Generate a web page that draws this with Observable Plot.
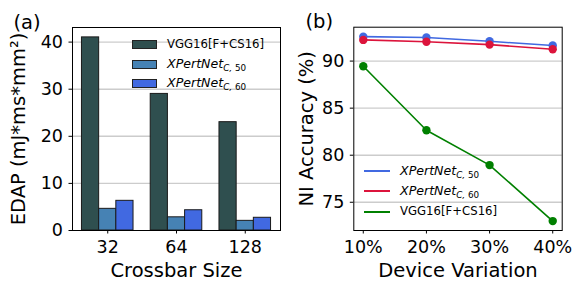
<!DOCTYPE html>
<html>
<head>
<meta charset="utf-8">
<script src="https://cdn.jsdelivr.net/npm/d3@7"></script>
<script src="https://cdn.jsdelivr.net/npm/@observablehq/plot@0.6"></script>
<style>
  html, body { margin: 0; padding: 0; background: white; }
  #wrap { position: relative; width: 581px; height: 290px; font-family: "DejaVu Sans", sans-serif; }
  .panel { position: absolute; top: 0; }
  .leg { position: absolute; font-family: "DejaVu Sans", sans-serif; font-size: 11.7px; color: black; line-height: 14px; white-space: nowrap; }
  .patch { position: absolute; width: 25px; height: 9px; border: 1px solid #222; box-sizing: border-box; }
  .lline { position: absolute; width: 26px; height: 1.7px; }
  .math { font-style: italic; font-size: 12.6px; }
  .math sub { font-size: 8.8px; vertical-align: -3px; }
  .math .up { font-style: normal; }
</style>
</head>
<body>
<div id="wrap"></div>
<script>
// ---- Panel (a) data ----
const crossbarSizes = ["32", "64", "128"];
const barSeries = ["VGG16[F+CS16]", "XPertNet_C,50", "XPertNet_C,60"];
const edapVGG = [41.0, 29.0, 23.0];
const edapXP50 = [4.6, 2.8, 2.05];
const edapXP60 = [6.3, 4.3, 2.7];
const edapTicks = [0, 10, 20, 30, 40];
const barColors = ["#2F4F4F", "#4682B4", "#4169E1"];

// ---- Panel (b) data ----
const variation = [10, 20, 30, 40];
const accXP50 = [92.6, 92.5, 92.1, 91.65];
const accXP60 = [92.25, 92.05, 91.75, 91.25];
const accVGG = [89.45, 82.65, 78.95, 73.0];
const accTicks = [75, 80, 85, 90];
const lineSeries = ["XPertNet_C,50", "XPertNet_C,60", "VGG16[F+CS16]"];
const lineColors = ["#4169E1", "#DC143C", "#008000"];

const wrap = document.getElementById("wrap");
const FONT = "DejaVu Sans";

// Build bar table
const barValues = [edapVGG, edapXP50, edapXP60];
const bars = [];
crossbarSizes.forEach((c, g) => {
  barValues.forEach((vals, s) => {
    bars.push({g, s, series: barSeries[s], value: vals[g]});
  });
});
const bw = 0.25;

const plotA = Plot.plot({
  width: 290, height: 290,
  marginLeft: 72, marginRight: 10, marginTop: 27, marginBottom: 60,
  style: {fontFamily: FONT, fontSize: "17.5px", color: "black", background: "transparent", overflow: "visible"},
  x: {domain: [-0.5125, 2.5125], ticks: [0, 1, 2], tickFormat: i => crossbarSizes[i], tickSize: 3.5, tickPadding: 6.5, label: null},
  y: {domain: [0, 43.1], ticks: edapTicks, tickSize: 3.5, tickPadding: 6, label: null},
  color: {domain: barSeries, range: barColors},
  marks: [
    Plot.ruleY(edapTicks.filter(t => t > 0), {stroke: "#cccccc", strokeWidth: 1.4}),
    Plot.rect(bars, {
      x1: d => d.g + (d.s - 1) * bw - bw / 2,
      x2: d => d.g + (d.s - 1) * bw + bw / 2,
      y1: 0, y2: "value",
      fill: "series", stroke: "#1a1a1a", strokeWidth: 1
    }),
    Plot.frame({stroke: "black", strokeWidth: 1}),
    Plot.text(["Crossbar Size"], {frameAnchor: "bottom", dy: 40, fontSize: 19.5, textAnchor: "middle", lineAnchor: "middle", fill: "black"}),
    Plot.text(["EDAP (mJ*ms*mm²)"], {frameAnchor: "left", rotate: -90, dx: -54, fontSize: 19.5, textAnchor: "middle", lineAnchor: "middle", fill: "black"}),
    Plot.text(["(a)"], {frameAnchor: "top-left", dx: -59, dy: -5, fontSize: 19.5, textAnchor: "start", lineAnchor: "middle", fill: "black"})
  ]
});
plotA.classList.add("panel");
plotA.style.left = "0px";
wrap.appendChild(plotA);

// Build line table
const lineValues = [accXP50, accXP60, accVGG];
const pts = [];
lineValues.forEach((vals, s) => {
  variation.forEach((v, i) => pts.push({series: lineSeries[s], v, acc: vals[i]}));
});

const plotB = Plot.plot({
  width: 291, height: 290,
  marginLeft: 63.3, marginRight: 19.3, marginTop: 26.7, marginBottom: 60,
  style: {fontFamily: FONT, fontSize: "17.5px", color: "black", background: "transparent", overflow: "visible"},
  x: {domain: [8.5, 41.5], ticks: variation, tickFormat: d => d + "%", tickSize: 3.5, tickPadding: 6.5, label: null},
  y: {domain: [72.0, 93.6], ticks: accTicks, tickSize: 3.5, tickPadding: 6, label: null},
  color: {domain: lineSeries, range: lineColors},
  marks: [
    Plot.ruleY(accTicks, {stroke: "#cccccc", strokeWidth: 1.4}),
    ...lineSeries.map(s => Plot.line(pts.filter(d => d.series === s), {x: "v", y: "acc", stroke: "series", strokeWidth: 1.6})),
    ...lineSeries.map(s => Plot.dot(pts.filter(d => d.series === s), {x: "v", y: "acc", fill: "series", r: 4.2})),
    Plot.frame({stroke: "black", strokeWidth: 1}),
    Plot.text(["Device Variation"], {frameAnchor: "bottom", dy: 40, fontSize: 19.5, textAnchor: "middle", lineAnchor: "middle", fill: "black"}),
    Plot.text(["NI Accuracy (%)"], {frameAnchor: "left", rotate: -90, dx: -46.6, fontSize: 19.5, textAnchor: "middle", lineAnchor: "middle", fill: "black"}),
    Plot.text(["(b)"], {frameAnchor: "top-left", dx: -48.3, dy: -5, fontSize: 19.5, textAnchor: "start", lineAnchor: "middle", fill: "black"})
  ]
});
plotB.classList.add("panel");
plotB.style.left = "290px";
wrap.appendChild(plotB);

// Legends (HTML overlays)
function labelHTML(name) {
  if (name.startsWith("XPertNet_")) {
    const sub = name.split("_")[1].split(",");
    return `<span class="math">XPertNet<sub>${sub[0]},<span class="up"> ${sub[1]}</span></sub></span>`;
  }
  return name;
}
const legA = [44.2, 64, 83.8];
barSeries.forEach((s, i) => {
  const p = document.createElement("div");
  p.className = "patch";
  p.style.left = "132px"; p.style.top = (legA[i] - 4.5) + "px";
  p.style.background = barColors[i];
  wrap.appendChild(p);
  const t = document.createElement("div");
  t.className = "leg";
  t.style.left = "167px"; t.style.top = (legA[i] - 7.5) + "px";
  t.innerHTML = labelHTML(s);
  wrap.appendChild(t);
});
const legB = [171.3, 191.3, 211.7];
lineSeries.forEach((s, i) => {
  const l = document.createElement("div");
  l.className = "lline";
  l.style.left = "364px"; l.style.top = (legB[i] - 0.85) + "px";
  l.style.background = lineColors[i];
  wrap.appendChild(l);
  const t = document.createElement("div");
  t.className = "leg";
  t.style.left = "400px"; t.style.top = (legB[i] - 7.5) + "px";
  t.innerHTML = labelHTML(s);
  wrap.appendChild(t);
});
</script>
</body>
</html>
